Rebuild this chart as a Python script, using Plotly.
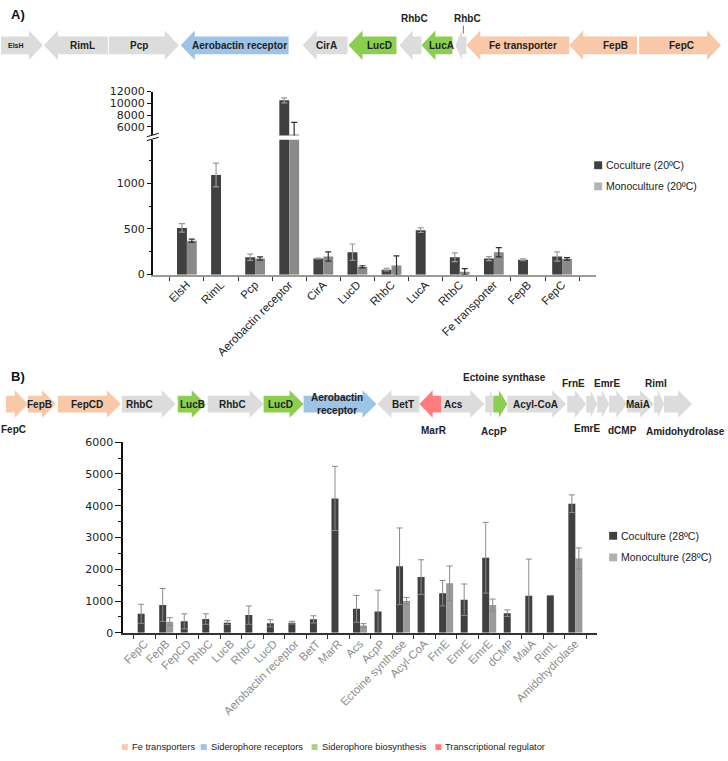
import plotly.graph_objects as go

# ---------------- data ----------------
a_genes = ["ElsH", "RimL", "Pcp", "Aerobactin receptor", "CirA", "LucD", "RhbC",
           "LucA", "RhbC", "Fe transporter", "FepB", "FepC"]
a_coco = [511, 1090, 190, 10500, 176, 245, 54, 486, 190, 176, 162, 198]
a_coco_err = [46, 130, 35, 420, 5, 90, 14, 25, 47, 22, 10, 50]
a_mono = [370, None, 176, 4700, 198, 86, 100, None, 32, 245, None, 173]
a_mono_err = [18, 0, 18, 2050, 50, 11, 105, 0, 33, 50, 0, 14]

b_genes = ["FepC", "FepB", "FepCD", "RhbC", "LucB", "RhbC", "LucD", "Aerobactin receptor",
           "BetT", "MarR", "Acs", "AcpP", "Ectoine synthase", "Acyl-CoA", "FrnE", "EmrE",
           "EmrE", "dCMP", "MaiA", "RimL", "Amidohydrolase"]
b_coco = [598, 876, 361, 433, 320, 557, 299, 320, 423, 4227, 753, 670, 2093, 1753,
          1247, 1041, 2361, 619, 1165, 1175, 4062]
b_coco_err = [300, 516, 237, 165, 61, 289, 113, 41, 113, 1010, 422, 670, 1206, 546,
              400, 495, 1113, 103, 1155, 0, 278]
b_mono = [None, 350, None, None, None, None, None, None, None, None, 227, None, 1000,
          None, 1557, None, 876, None, None, None, 2340]
b_mono_err = [0, 124, 0, 0, 0, 0, 0, 0, 0, 0, 62, 0, 113, 0, 546, 0, 186, 0, 0, 0, 330]

a_names = ["Coculture (20ºC)", "Monoculture (20ºC)"]
b_names = ["Coculture (28ºC)", "Monoculture (28ºC)"]
cat_names = ["Fe transporters", "Siderophore receptors", "Siderophore biosynthesis",
             "Transcriptional regulator"]

# ---------------- styling / layout ----------------
W, H = 728, 761
FONT = "Liberation Sans, Arial, sans-serif"
TICKFONT = "DejaVu Sans, sans-serif"
COCO = "#404040"
MONO_A = "#8a8a8a"
MONO_B = "#9a9a9a"
CAT_COL = {"fe": "#F8C8A8", "rec": "#9DC3E6", "bio": "#8CCF50", "reg": "#FF7C80", "oth": "#DCDCDC"}
LEG_COL = ["#F8CBAD", "#9DC3E6", "#A9D18E", "#FF7C80"]


def px(x):
    return x / W


def py(y):
    return 1 - y / H


fig = go.Figure()
xa = list(range(len(a_genes)))
xb = list(range(len(b_genes)))
WA, WB = 0.29, 0.325

for xax, yax in [("x", "y"), ("x2", "y2")]:
    fig.add_trace(go.Bar(x=xa, y=a_coco, width=WA, offset=-WA, marker_color=COCO,
                         marker_line_width=0, xaxis=xax, yaxis=yax, showlegend=False,
                         error_y=dict(type="data", array=a_coco_err, color="#9a9a9a",
                                      thickness=1.2, width=3)))
    fig.add_trace(go.Bar(x=xa, y=a_mono, width=WA, offset=0, marker_color=MONO_A,
                         marker_line_width=0, xaxis=xax, yaxis=yax, showlegend=False,
                         error_y=dict(type="data", array=a_mono_err, color="#303030",
                                      thickness=1.2, width=3)))

fig.add_trace(go.Bar(x=xb, y=b_coco, width=WB, offset=-WB, marker_color=COCO,
                     marker_line_width=0, xaxis="x3", yaxis="y3", showlegend=False,
                     error_y=dict(type="data", array=b_coco_err, color="#8a8a8a",
                                  thickness=1, width=3)))
fig.add_trace(go.Bar(x=xb, y=b_mono, width=WB, offset=0, marker_color=MONO_B,
                     marker_line_width=0, xaxis="x3", yaxis="y3", showlegend=False,
                     error_y=dict(type="data", array=b_mono_err, color="#8a8a8a",
                                  thickness=1, width=3)))

xdomA = [px(152), px(596)]
xdomB = [px(122.3), px(596.7)]

fig.update_layout(
    width=W, height=H, autosize=False,
    margin=dict(l=0, r=0, t=0, b=0),
    paper_bgcolor="white", plot_bgcolor="rgba(0,0,0,0)",
    barmode="overlay",
    font=dict(family=FONT, color="#222"),
    xaxis=dict(domain=xdomA, range=[-1, 12], anchor="y", tickvals=xa, ticktext=a_genes,
               tickangle=-45, ticks="", showline=True, linecolor="#9a9a9a", linewidth=2,
               showgrid=False, zeroline=False, ticklabelstandoff=-3,
               tickfont=dict(family=FONT, size=11.5, color="#222"),
               minor=dict(tick0=0.5, dtick=1, ticks="outside", ticklen=4,
                          tickcolor="#333", tickwidth=1)),
    yaxis=dict(domain=[py(273.3), py(136)], range=[0, 1476], anchor="x",
               tickvals=[0, 500, 1000], ticks="outside", ticklen=4, tickcolor="#111",
               showline=True, linecolor="#111", linewidth=1.5, showgrid=False,
               zeroline=False, tickfont=dict(family=TICKFONT, size=11, color="#222"),
               minor=dict(dtick=250, ticks="outside", ticklen=2, tickcolor="#111")),
    xaxis2=dict(domain=xdomA, range=[-1, 12], anchor="y2", matches="x", visible=False),
    yaxis2=dict(domain=[py(131.7), py(87)], range=[4550, 12000], anchor="x2",
                tickvals=[6000, 8000, 10000, 12000], tickformat="d", ticks="outside",
                ticklen=4, tickcolor="#111", showline=True, linecolor="#111",
                linewidth=1.5, showgrid=False, zeroline=False,
                tickfont=dict(family=TICKFONT, size=11, color="#222")),
    xaxis3=dict(domain=xdomB, range=[-1, 21], anchor="y3", tickvals=xb, ticktext=b_genes,
                tickangle=-45, ticks="", showline=True, linecolor="#333", linewidth=1.5,
                showgrid=False, zeroline=False, ticklabelstandoff=-2,
                tickfont=dict(family=FONT, size=11.5, color="#8c8c8c"),
                minor=dict(tick0=0.5, dtick=1, ticks="outside", ticklen=4,
                           tickcolor="#333", tickwidth=1)),
    yaxis3=dict(domain=[py(637.7), py(443.7)], range=[0, 6000], anchor="x3",
                dtick=1000, tickformat="d", ticks="outside", ticklen=6, tickcolor="#111",
                showline=True, linecolor="#111", linewidth=1.5, showgrid=False,
                zeroline=False, tickfont=dict(family=TICKFONT, size=11, color="#222"),
                minor=dict(dtick=500, ticks="outside", ticklen=3, tickcolor="#111")),
)

shapes = []
annots = []

# axis break marks
shapes.append(dict(type="rect", xref="paper", yref="paper", x0=px(145), x1=px(159),
                   y0=py(135.5), y1=py(132), fillcolor="white", line=dict(width=0)))
for (x0, y0, x1, y1) in [(146, 133, 158, 129.5), (146, 137, 158, 133.5)]:
    shapes.append(dict(type="line", xref="paper", yref="paper", x0=px(x0), y0=py(y0),
                       x1=px(x1), y1=py(y1), line=dict(color="#111", width=1)))


def arrow_path(x0, x1, yc, d, bh, hh, hl=14):
    L = x1 - x0
    hl = min(hl, L * 0.6)
    if d == "R":
        pts = [(x0, yc - bh), (x1 - hl, yc - bh), (x1 - hl, yc - hh), (x1, yc),
               (x1 - hl, yc + hh), (x1 - hl, yc + bh), (x0, yc + bh)]
    else:
        pts = [(x1, yc - bh), (x0 + hl, yc - bh), (x0 + hl, yc - hh), (x0, yc),
               (x0 + hl, yc + hh), (x0 + hl, yc + bh), (x1, yc + bh)]
    return "M " + " L ".join(f"{px(x):.5f},{py(y):.5f}" for x, y in pts) + " Z"


# gene maps: (label, x0, x1, direction, category, label x, label y, font size, anchor)
genes_a = [
    ("ElsH", 0, 42, "R", "oth", 15, None, 7, "center"),
    ("RimL", 43, 107, "L", "oth", 82, None, 10, "center"),
    ("Pcp", 108, 178, "R", "oth", 138, None, 10, "center"),
    ("Aerobactin receptor", 180, 288, "L", "rec", 239, None, 10, "center"),
    ("CirA", 302, 347, "L", "oth", 326, None, 10, "center"),
    ("LucD", 348, 396, "L", "bio", 379, None, 10, "center"),
    ("RhbC", 399, 421, "L", "oth", 414, 13, 10, "center"),
    ("LucA", 421, 452, "L", "bio", 441, None, 10, "center"),
    ("RhbC", 455, 466, "L", "oth", 467, 13, 10, "center"),
    ("Fe transporter", 466, 569, "L", "fe", 523, None, 10, "center"),
    ("FepB", 569, 637, "L", "fe", 615, None, 10, "center"),
    ("FepC", 639, 721, "R", "fe", 681, None, 10, "center"),
]
genes_b = [
    ("FepC", 5, 27, "R", "fe", 13, 431, 10, "center"),
    ("FepB", 27, 55, "R", "fe", 39, None, 10, "center"),
    ("FepCD", 57, 120, "R", "fe", 86, None, 10, "center"),
    ("RhbC", 121, 175, "R", "oth", 139, None, 10, "center"),
    ("LucB", 177, 205, "R", "bio", 192, None, 10, "center"),
    ("RhbC", 207, 263, "R", "oth", 232, None, 10, "center"),
    ("LucD", 263, 303, "R", "bio", 280, None, 10, "center"),
    ("Aerobactin<br>receptor", 303, 376, "R", "rec", 336, None, 10, "center"),
    ("BetT", 377, 419, "L", "oth", 403, None, 10, "center"),
    ("MarR", 419, 441, "L", "reg", 434, 432, 10, "center"),
    ("Acs", 441, 484, "R", "oth", 453, None, 10, "center"),
    ("Ectoine synthase", 485, 496, "R", "oth", 504, 378, 10, "center"),
    ("AcpP", 493, 507, "R", "bio", 494, 433, 10, "center"),
    ("Acyl-CoA", 507, 566, "R", "oth", 535, None, 10, "center"),
    ("FrnE", 567, 586, "R", "oth", 573, 384, 10, "center"),
    ("EmrE", 586, 597, "R", "oth", 587, 430, 10, "center"),
    ("EmrE", 597, 609, "R", "oth", 607, 384, 10, "center"),
    ("dCMP", 609, 627, "R", "oth", 622, 432, 10, "center"),
    ("MaiA", 627, 654, "R", "oth", 638, None, 10, "center"),
    ("RimI", 654, 664, "R", "oth", 656, 384, 10, "center"),
    ("Amidohydrolase", 664, 692, "R", "oth", 727, 433, 10, "right"),
]

for genes, yc, bh, hh in [(genes_a, 40, 9, 15), (genes_b, 405, 8.5, 14)]:
    for (lab, x0, x1, d, cat, lx, ly, fs, anc) in genes:
        shapes.append(dict(type="path", xref="paper", yref="paper",
                           path=arrow_path(x0, x1, yc, d, bh, hh),
                           fillcolor=CAT_COL[cat], line=dict(width=0), layer="above"))
        annots.append(dict(xref="paper", yref="paper", x=px(lx),
                           y=py(yc if ly is None else ly), text=f"<b>{lab}</b>",
                           showarrow=False, xanchor=anc, yanchor="middle",
                           font=dict(family=FONT, size=fs, color="#222")))

# small pointer for the tiny RhbC in panel A
shapes.append(dict(type="line", xref="paper", yref="paper", x0=px(463), x1=px(463),
                   y0=py(20), y1=py(28), line=dict(color="#777", width=1)))

# panel letters
annots.append(dict(xref="paper", yref="paper", x=px(8), y=py(9), text="<b>A)</b>",
                   showarrow=False, xanchor="left", yanchor="middle",
                   font=dict(family=FONT, size=13, color="#111")))
annots.append(dict(xref="paper", yref="paper", x=px(8), y=py(377), text="<b>B)</b>",
                   showarrow=False, xanchor="left", yanchor="middle",
                   font=dict(family=FONT, size=13, color="#111")))


def legend_item(x, y, w, col, text, size):
    shapes.append(dict(type="rect", xref="paper", yref="paper", x0=px(x), x1=px(x + w),
                       y0=py(y + w / 2), y1=py(y - w / 2), fillcolor=col,
                       line=dict(width=0)))
    annots.append(dict(xref="paper", yref="paper", x=px(x + w + 2), y=py(y), text=text,
                       showarrow=False, xanchor="left", yanchor="middle",
                       font=dict(family=FONT, size=size, color="#222")))


legend_item(594, 162, 8, COCO, a_names[0], 10.5)
legend_item(594, 183.5, 8, "#b4b4b4", a_names[1], 10.5)
legend_item(609, 539, 8, COCO, b_names[0], 10.5)
legend_item(609, 561, 8, "#b0b0b0", b_names[1], 10.5)

for xl, col, name in zip([121, 200, 311, 435], LEG_COL, cat_names):
    legend_item(xl, 754, 6, col, name, 9.3)

fig.update_layout(shapes=shapes, annotations=annots)
fig.write_html(
    "out.html",
    config={"displayModeBar": False},
    post_script="document.body.style.margin='0px';"
                "document.documentElement.style.overflow='hidden';"
                "document.body.style.overflow='hidden';",
)
